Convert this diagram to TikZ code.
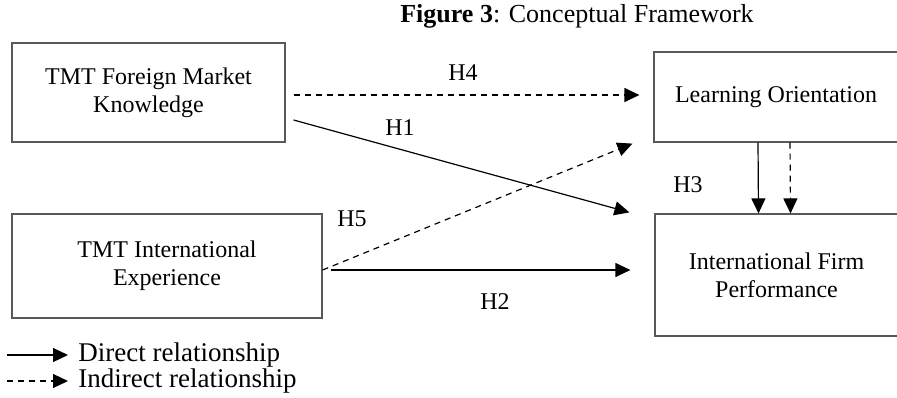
\documentclass[tikz,border=0pt]{standalone}
\usepackage{fontspec}
\setmainfont{Liberation Serif}
\usetikzlibrary{arrows.meta}

\tikzset{
  box/.style={draw=black!65, line width=0.6pt, inner sep=0pt, align=center, font=\fontsize{12}{14}\selectfont},
  hyp/.style={font=\fontsize{12}{14}\selectfont},
  direct/.style={line width=0.6pt, -{Triangle[length=7.5pt,width=7pt]}},
  indirect/.style={direct, dash pattern=on 3pt off 2.5pt},
  legtext/.style={anchor=west, inner sep=0pt, font=\fontsize{13.5}{16}\selectfont}
}

\begin{document}
\begin{tikzpicture}[x=0.5pt,y=-0.5pt]
                \useasboundingbox (0,0) rectangle (897,397);
                % Title
                \node (title) at (577,16) {\fontsize{13}{15}\selectfont\textbf{Figure 3}: Conceptual Framework};
                % Draw the four constructs
                \node[box, minimum width=136.5pt, minimum height=49.5pt] (fmk) at (148.5,92.5) {TMT Foreign Market\\Knowledge};
                \node[box, minimum width=155pt, minimum height=52pt] (exp) at (167,266) {TMT International\\Experience};
                \node[box, minimum width=122pt, minimum height=45pt] (lo) at (776,97) {Learning Orientation};
                \node[box, minimum width=121.5pt, minimum height=61pt] (perf) at (776.5,275) {International Firm\\Performance};
                % The hypothesised paths
                \draw[indirect] ([shift={(4pt,-1.25pt)}]fmk.east) -- ([shift={(-7pt,1pt)}]lo.west);
                \draw[direct] ([shift={(4pt,-13.75pt)}]fmk.east) -- ([shift={(-12.5pt,0.5pt)}]perf.north west);
                \draw[indirect] ([yshift=-2pt]exp.east) -- ([shift={(-10.5pt,-0.5pt)}]lo.south west);
                \draw[direct] ([shift={(4pt,-2pt)}]exp.east) -- ([shift={(-12pt,2.5pt)}]perf.west);
                \draw[direct] ([xshift=-9pt]lo.south) -- ([xshift=-9pt]perf.north);
                \draw[indirect] ([xshift=7pt]lo.south) -- ([xshift=7pt]perf.north);
                % Labels of the paths
                \node[hyp] (h4) at (463,73) {H4};
                \node[hyp] (h1) at (400,128) {H1};
                \node[hyp] (h5) at (352,219) {H5};
                \node[hyp] (h2) at (495,302) {H2};
                \node[hyp] (h3) at (688,185) {H3};
                % Legend
                \coordinate (dstart) at (7,355);
                \coordinate (istart) at (7,381);
                \node[legtext] (dlabel) at (78,355) {Direct relationship};
                \node[legtext] (ilabel) at (78,381) {Indirect relationship};
                \draw[direct] (dstart) -- ([xshift=-5pt]dlabel.west);
                \draw[indirect] (istart) -- ([xshift=-5pt]ilabel.west);
            \end{tikzpicture}
\end{document}
